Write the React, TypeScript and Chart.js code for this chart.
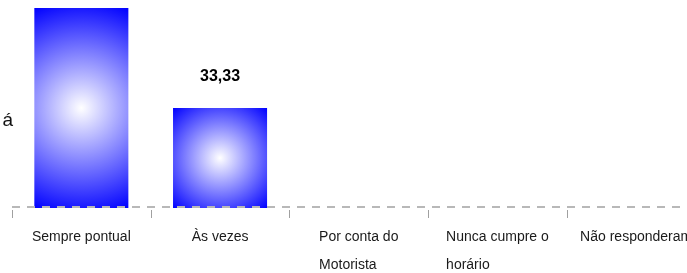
import React, { useEffect, useRef } from "react";
import { Chart, registerables } from "chart.js";

Chart.register(...registerables);

const categories: string[][] = [
  ["Sempre pontual"],
  ["Às vezes"],
  ["Por conta do", "Motorista"],
  ["Nunca cumpre o", "horário"],
  ["Não responderam"],
];
const values: number[] = [66.67, 33.33, 0, 0, 0];
const axisTitle = "á";

const BAR_PCT = 0.678;
const LABEL_FONT = '14px "Liberation Sans", Arial, sans-serif';
const VALUE_FONT = 'bold 16px "Liberation Sans", Arial, sans-serif';
const TITLE_FONT = '19px "Liberation Sans", Arial, sans-serif';

const fmt = (v: number) => v.toFixed(2).replace(".", ",");

const axisPlugin = {
  id: "dashedAxis",
  afterDatasetsDraw(chart: any) {
    const ctx = chart.ctx as CanvasRenderingContext2D;
    const xs = chart.scales.x;
    const { left, right, bottom } = chart.chartArea;
    ctx.save();
    // dashed axis line
    ctx.strokeStyle = "#b8b8b8";
    ctx.lineWidth = 2;
    ctx.setLineDash([8, 7]);
    ctx.beginPath();
    ctx.moveTo(left, bottom - 1);
    ctx.lineTo(right + 20, bottom - 1);
    ctx.stroke();
    // tick marks at category boundaries
    ctx.setLineDash([]);
    ctx.strokeStyle = "#a0a0a0";
    ctx.lineWidth = 1;
    const half = xs.width / categories.length / 2;
    for (let i = 0; i <= categories.length; i++) {
      const x = Math.round(xs.getPixelForValue(i) - half) + 0.5;
      ctx.beginPath();
      ctx.moveTo(x, bottom + 2);
      ctx.lineTo(x, bottom + 10);
      ctx.stroke();
    }
    ctx.restore();
  },
};

const textPlugin = {
  id: "customText",
  afterDraw(chart: any) {
    const ctx = chart.ctx as CanvasRenderingContext2D;
    const xs = chart.scales.x;
    const ys = chart.scales.y;
    const bottom = chart.chartArea.bottom;
    ctx.save();
    ctx.font = LABEL_FONT;
    ctx.fillStyle = "#1a1a1a";
    ctx.textAlign = "left";
    ctx.textBaseline = "middle";
    categories.forEach((lines, i) => {
      const cx = xs.getPixelForValue(i);
      const maxW = Math.max(...lines.map((l) => ctx.measureText(l).width));
      const left = cx - maxW / 2;
      lines.forEach((l, j) => {
        ctx.fillText(l, left, bottom + 29 + j * 28);
      });
    });
    ctx.font = VALUE_FONT;
    ctx.fillStyle = "#000000";
    ctx.textAlign = "center";
    values.forEach((v, i) => {
      if (v <= 0) return;
      const cx = xs.getPixelForValue(i);
      const top = ys.getPixelForValue(v);
      ctx.fillText(fmt(v), cx, top - 31);
    });
    ctx.font = TITLE_FONT;
    ctx.fillStyle = "#111111";
    ctx.textAlign = "right";
    ctx.textBaseline = "alphabetic";
    ctx.fillText(axisTitle, chart.chartArea.left + 1, ys.getPixelForValue(0) - 82);
    ctx.restore();
  },
};

export default function App() {
  const ref = useRef<HTMLCanvasElement | null>(null);
  useEffect(() => {
    if (!ref.current) return;
    const chart = new Chart(ref.current, {
      type: "bar",
      data: {
        labels: categories.map((c) => c.join(" ")),
        datasets: [
          {
            data: values,
            borderWidth: 0,
            categoryPercentage: 1,
            barPercentage: BAR_PCT,
            backgroundColor: (c: any) => {
              const ch = c.chart;
              const xs = ch.scales?.x;
              const ys = ch.scales?.y;
              if (!xs || !ys || c.type !== "data") return "#0000ff";
              const v = values[c.dataIndex];
              const cx = xs.getPixelForValue(c.dataIndex);
              const w = (xs.width / categories.length) * BAR_PCT;
              const top = ys.getPixelForValue(v);
              const base = ys.getPixelForValue(0);
              const cy = (top + base) / 2;
              const r = Math.max(1, Math.hypot(w / 2, (base - top) / 2));
              if (![cx, cy, r].every((n) => Number.isFinite(n))) return "#0000ff";
              const g = ch.ctx.createRadialGradient(cx, cy, 0, cx, cy, r);
              g.addColorStop(0, "#ffffff");
              g.addColorStop(1, "#0000ff");
              return g;
            },
          },
        ],
      },
      options: {
        responsive: false,
        animation: false,
        events: [],
        layout: { padding: { left: 12, right: 14.5, top: 8, bottom: 0 } },
        plugins: {
          legend: { display: false },
          tooltip: { enabled: false },
          title: { display: false },
        },
        scales: {
          x: {
            offset: true,
            grid: { display: false },
            border: { display: false },
            ticks: { display: false },
            afterFit: (s: any) => {
              s.height = 72;
            },
          },
          y: {
            display: false,
            min: 0,
            max: 80,
          },
        },
      },
      plugins: [axisPlugin, textPlugin],
    });
    return () => chart.destroy();
  }, []);
  return (
    <div style={{ position: "fixed", left: 0, top: 0, width: 687, height: 273, overflow: "hidden", background: "#fff" }}>
      <canvas
        ref={ref}
        width={720}
        height={320}
        style={{ position: "absolute", left: 0, top: -40, width: 720, height: 320 }}
      />
    </div>
  );
}
